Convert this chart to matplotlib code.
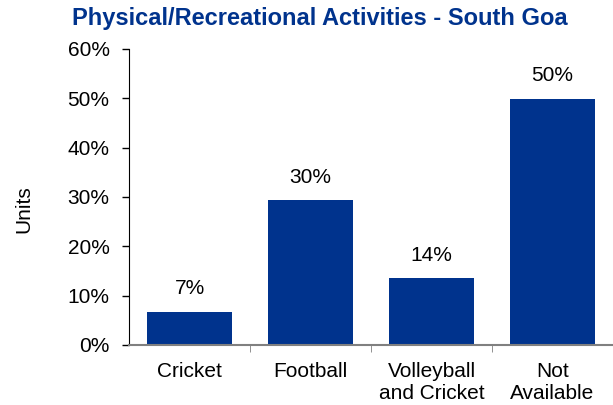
import numpy as np
import matplotlib.pyplot as plt

# data
categories = ["Cricket", "Football", "Volleyball\nand Cricket", "Not\nAvailable"]
values = [6.7, 29.3, 13.5, 49.9]
labels = ["7%", "30%", "14%", "50%"]
yticks = [0, 10, 20, 30, 40, 50, 60]

bar_color = "#00338D"
plt.rcParams['font.family'] = ['Liberation Sans', 'DejaVu Sans']

fig = plt.figure(figsize=(6.13, 4.05), dpi=100)
ax = fig.add_axes([129 / 613, 1 - 345 / 405, 1 - 129 / 613, (345 - 49) / 405])

x = np.arange(len(categories))
ax.bar(x, values, width=0.71, color=bar_color, zorder=2)

for xi, v, lab in zip(x, values, labels):
    ax.annotate(lab, (xi, v), xytext=(0, 10), textcoords="offset points",
                ha="center", va="bottom", fontsize=15)

ax.set_xlim(-0.5, len(categories) - 0.5)
ax.set_ylim(0, 60)
ax.set_yticks(yticks)
ax.set_yticklabels([f"{t}%" for t in yticks], fontsize=15)
ax.tick_params(axis="y", direction="out", length=5, width=1, pad=9, colors="black")

ax.set_xticks(x)
ax.set_xticklabels(categories, fontsize=15, linespacing=1.2)
ax.tick_params(axis="x", which="major", length=0, pad=12)
ax.set_xticks(np.arange(0.5, len(categories) - 0.5, 1), minor=True)
ax.tick_params(axis="x", which="minor", direction="out", length=5, color="#808080")

ax.spines["top"].set_visible(False)
ax.spines["right"].set_visible(False)
ax.spines["bottom"].set_color("#808080")
ax.spines["bottom"].set_linewidth(1.5)
ax.spines["left"].set_color("black")

fig.text(24 / 613, 1 - 209 / 405, "Units", rotation=90, ha="center", va="center", fontsize=15)
fig.text(320 / 613, 1 - 25 / 405, "Physical/Recreational Activities - South Goa",
         ha="center", va="baseline", fontsize=17, fontweight="bold", color=bar_color)

fig.savefig("out.png", dpi=100)
